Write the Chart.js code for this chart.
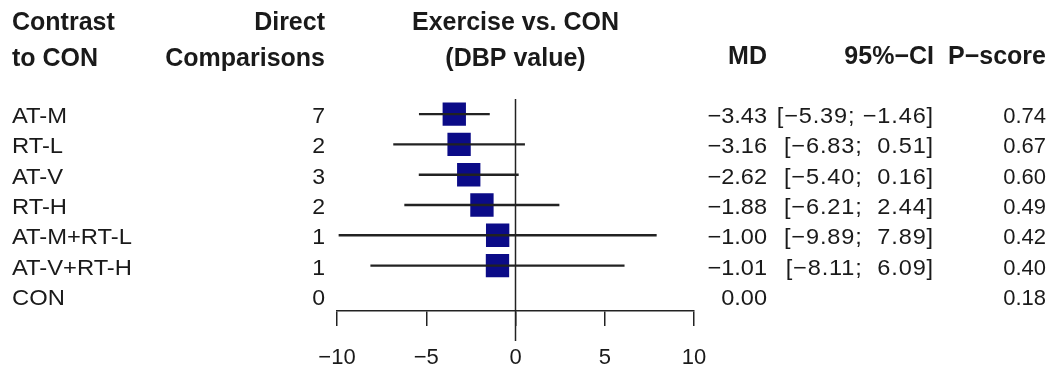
<!DOCTYPE html>
<html>
<head>
<meta charset="utf-8">
<title>Exercise vs. CON (DBP value)</title>
<script src="https://cdn.jsdelivr.net/npm/chart.js@4.4.1/dist/chart.umd.min.js"></script>
<style>
    html, body { margin: 0; padding: 0; background: #ffffff; }
    #wrap { width: 1054px; height: 369px; }
</style>
</head>
<body>
<div id="wrap"><canvas id="forest" width="1054" height="369"></canvas></div>
<script>
(function() {
    'use strict';

    // Dados do forest plot (contraste contra CON)
    var contrasts = ['AT-M', 'RT-L', 'AT-V', 'RT-H', 'AT-M+RT-L', 'AT-V+RT-H', 'CON'];
    var directComparisons = [7, 2, 3, 2, 1, 1, 0];
    var md = [-3.43, -3.16, -2.62, -1.88, -1.00, -1.01, 0.00];
    var ciLower = [-5.39, -6.83, -5.40, -6.21, -9.89, -8.11, null];
    var ciUpper = [-1.46, 0.51, 0.16, 2.44, 7.89, 6.09, null];
    var pScores = [0.74, 0.67, 0.60, 0.49, 0.42, 0.40, 0.18];
    var xTicks = [-10, -5, 0, 5, 10];

    var textColor = '#1a1a1a';
    var squareColor = '#0b0b87';
    var lineColor = '#222222';
    var bodyFont = '22px "Liberation Sans", Arial, sans-serif';
    var headFont = 'bold 25px "Liberation Sans", Arial, sans-serif';

    Chart.defaults.font.family = '"Liberation Sans", Arial, sans-serif';

    // R usa o sinal de menos verdadeiro
    function num(v) {
        var s = Math.abs(v).toFixed(2);
        return (v < 0 ? '\u2212' : '') + s;
    }

    function ciText(i) {
        var lo = num(ciLower[i]);
        var hi = num(ciUpper[i]);
        if (ciUpper[i] >= 0) hi = ' ' + hi;
        return '[' + lo + '; ' + hi + ']';
    }

    // texto com leve esticamento horizontal (o original é mais largo)
    function drawText(ctx, txt, x, y, align, font, sx, spacing) {
        ctx.save();
        ctx.font = font;
        ctx.textAlign = align;
        if (spacing) ctx.letterSpacing = spacing;
        ctx.translate(x, y);
        ctx.scale(sx || 1, 1);
        ctx.fillText(txt, 0, 0);
        ctx.restore();
    }

    var forestText = {
        id: 'forestText',
        beforeDatasetsDraw: function(chart) {
            // linha de referência em 0
            var ctx = chart.ctx;
            var x0 = chart.scales.x.getPixelForValue(0);
            ctx.save();
            ctx.strokeStyle = lineColor;
            ctx.lineWidth = 1.5;
            ctx.beginPath();
            ctx.moveTo(x0, chart.chartArea.top);
            ctx.lineTo(x0, chart.chartArea.bottom + 30);
            ctx.stroke();
            ctx.restore();
        },
        afterDraw: function(chart) {
            var ctx = chart.ctx;
            var yScale = chart.scales.y;
            var x0 = chart.scales.x.getPixelForValue(0);
            ctx.save();
            ctx.fillStyle = textColor;
            ctx.textBaseline = 'alphabetic';

            // cabeçalhos
            drawText(ctx, 'Contrast', 12, 30, 'left', headFont);
            drawText(ctx, 'to CON', 12, 66, 'left', headFont);
            drawText(ctx, 'Direct', 325, 30, 'right', headFont);
            drawText(ctx, 'Comparisons', 325, 66, 'right', headFont);
            drawText(ctx, 'Exercise vs. CON', x0, 30, 'center', headFont);
            drawText(ctx, '(DBP value)', x0, 66, 'center', headFont);
            drawText(ctx, 'MD', 767, 64, 'right', headFont);
            drawText(ctx, '95%\u2212CI', 934, 64, 'right', headFont);
            drawText(ctx, 'P\u2212score', 1046, 64, 'right', headFont);

            // linhas
            contrasts.forEach(function(name, i) {
                var y = yScale.getPixelForValue(i) + 9;
                drawText(ctx, name, 12, y, 'left', bodyFont, 1.08);
                drawText(ctx, String(directComparisons[i]), 325, y, 'right', bodyFont, 1.05);
                drawText(ctx, num(md[i]), 767, y, 'right', bodyFont, 1.07);
                if (ciLower[i] !== null) {
                    drawText(ctx, ciText(i), 934, y, 'right', bodyFont, 1.07, '0.8px');
                }
                drawText(ctx, pScores[i].toFixed(2), 1046, y, 'right', bodyFont);
            });
            ctx.restore();
        }
    };

    var ciData = contrasts.map(function(c, i) {
        return ciLower[i] === null ? null : [ciLower[i], ciUpper[i]];
    });

    var squareData = [];
    contrasts.forEach(function(c, i) {
        if (ciLower[i] !== null) squareData.push({ x: md[i], y: c });
    });

    new Chart(document.getElementById('forest').getContext('2d'), {
        type: 'bar',
        data: {
            labels: contrasts,
            datasets: [{
                label: '95%-CI',
                data: ciData,
                backgroundColor: lineColor,
                barThickness: 1.7,
                borderWidth: 0,
                order: 0
            }, {
                type: 'scatter',
                label: 'MD',
                data: squareData,
                pointStyle: 'rect',
                pointRadius: 16.5,
                pointHoverRadius: 16.5,
                backgroundColor: squareColor,
                borderWidth: 0,
                order: 1
            }]
        },
        options: {
            indexAxis: 'y',
            responsive: false,
            animation: false,
            events: [],
            layout: {
                padding: { left: 337, right: 360, top: 99, bottom: 0 }
            },
            plugins: {
                legend: { display: false },
                tooltip: { enabled: false }
            },
            scales: {
                y: {
                    type: 'category',
                    display: false,
                    offset: true
                },
                x: {
                    type: 'linear',
                    min: -10,
                    max: 10,
                    afterBuildTicks: function(scale) {
                        scale.ticks = xTicks.map(function(v) { return { value: v }; });
                    },
                    afterFit: function(scale) {
                        scale.height = 58;
                    },
                    border: { display: true, color: lineColor, width: 1.5 },
                    grid: {
                        drawOnChartArea: false,
                        drawTicks: true,
                        tickLength: 15,
                        color: lineColor,
                        lineWidth: 1.5
                    },
                    ticks: {
                        color: textColor,
                        padding: 19,
                        maxRotation: 0,
                        font: { size: 22 },
                        callback: function(v) {
                            return (v < 0 ? '\u2212' : '') + Math.abs(v);
                        }
                    }
                }
            }
        },
        plugins: [forestText]
    });
})();
</script>
</body>
</html>
